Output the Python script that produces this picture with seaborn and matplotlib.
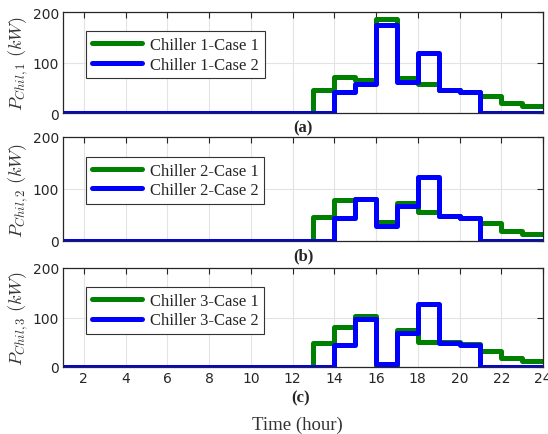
import numpy as np
import pandas as pd
import matplotlib
matplotlib.use("Agg")
import matplotlib.pyplot as plt
import seaborn as sns

hours = list(range(1, 25))
z12 = [0] * 12
c1_case1 = z12 + [46, 71, 65, 187, 69, 57, 46, 42, 34, 19, 13, 13]
c1_case2 = z12 + [0, 42, 57, 174, 62, 119, 46, 42, 0, 0, 0, 0]
c2_case1 = z12 + [47, 78, 80, 36, 74, 56, 48, 45, 34, 20, 13, 13]
c2_case2 = z12 + [0, 44, 80, 28, 68, 124, 48, 44, 0, 0, 0, 0]
c3_case1 = z12 + [48, 81, 103, 3, 74, 51, 50, 47, 32, 19, 12, 12]
c3_case2 = z12 + [0, 45, 96, 6, 68, 128, 49, 45, 0, 0, 0, 0]

panels = [(c1_case1, c1_case2, 1, "(a)"),
          (c2_case1, c2_case2, 2, "(b)"),
          (c3_case1, c3_case2, 3, "(c)")]
xticks = list(range(2, 25, 2))
yticks = [0, 100, 200]

sns.set_theme(style="whitegrid")
plt.rcParams["mathtext.fontset"] = "cm"
plt.rcParams["font.family"] = ["DejaVu Sans"]
serif = "Liberation Serif"

fig = plt.figure(figsize=(5.48, 4.35), dpi=100)
W, H = 548, 435
axes_px = [(13, 114), (138, 242), (269, 368)]
left, right = 63, 543

for (v1, v2, k, tag), (top, bot) in zip(panels, axes_px):
    ax = fig.add_axes([left / W, 1 - bot / H, (right - left) / W, (bot - top) / H])
    df = pd.DataFrame({
        "hour": hours * 2,
        "P": v1 + v2,
        "series": [f"Chiller {k}-Case 1"] * 24 + [f"Chiller {k}-Case 2"] * 24,
    })
    sns.lineplot(data=df, x="hour", y="P", hue="series",
                 palette=["#008000", "#0000ff"], drawstyle="steps-post",
                 linewidth=3.6, ax=ax, legend=True)
    ax.set_xlim(1, 24)
    ax.set_ylim(0, 200)
    ax.set_xticks(xticks)
    ax.set_yticks(yticks)
    ax.grid(True, color="#e3e3e3", linewidth=0.8)
    for s in ax.spines.values():
        s.set_color("#262626")
        s.set_linewidth(0.9)
    ax.tick_params(direction="in", length=4, width=0.8, color="#262626",
                   top=True, right=True, labelsize=10, pad=3, labelcolor="#262626")
    if k < 3:
        ax.set_xticklabels([])
    ax.set_xlabel("")
    ax.set_ylabel(r"$P_{Chil,%d}\ (kW)$" % k, fontsize=13, color="#333333", labelpad=2)
    if k < 3:
        ax.text(0.5, -0.06, tag, transform=ax.transAxes, ha="center",
                va="top", fontsize=12, fontweight="bold", family=serif)
    leg = ax.legend(loc="upper left", bbox_to_anchor=(0.03, 0.89), frameon=True,
                    fancybox=False, edgecolor="#333333", framealpha=1,
                    prop={"family": serif, "size": 12},
                    handlelength=3.0, borderpad=0.35, labelspacing=0.2,
                    handletextpad=0.5)
    for h in leg.get_lines():
        h.set_linewidth(3.6)
    leg.get_frame().set_linewidth(0.8)

fig.text(0.5 * (left + right) / W - 0.005, 1 - 398 / H, "(c)", ha="center", va="center",
         fontsize=12, fontweight="bold", family=serif)
fig.text(0.5 * (left + right) / W - 0.01, 1 - 425 / H, "Time (hour)", ha="center",
         va="center", fontsize=13.5, family=serif, color="#333333")

fig.savefig("out.png", dpi=100)
